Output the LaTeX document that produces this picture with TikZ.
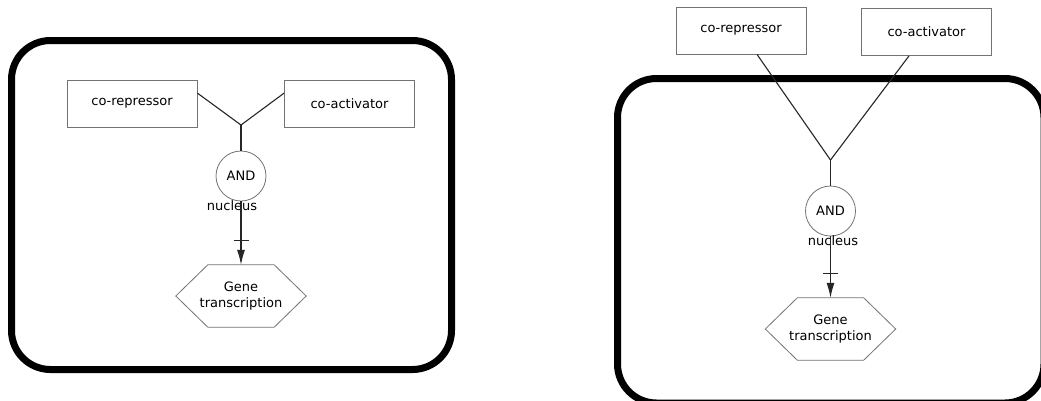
\documentclass[tikz,border=0pt]{standalone}
\usepackage{fontspec}
\setmainfont{DejaVu Sans}
\usetikzlibrary{arrows.meta,decorations.markings}
\begin{document}
\begin{tikzpicture}[x=1pt,y=-1pt,
  cellwall/.style={line width=7pt, rounded corners=39pt},
  molbox/.style={draw=black!55, line width=0.8pt, minimum width=130pt, minimum height=47pt, inner sep=0pt, font=\fontsize{13}{15}\selectfont},
  andgate/.style={circle, draw=black!55, line width=0.8pt, minimum size=50pt, inner sep=0pt, font=\fontsize{13}{15}\selectfont},
  hexhold/.style={minimum width=130pt, minimum height=62pt, inner sep=0pt, align=center, font=\fontsize{13}{16}\selectfont},
  hexline/.style={draw=black!55, line width=0.8pt},
  lbl/.style={inner sep=0pt, font=\fontsize{13}{15}\selectfont},
  conn/.style={line width=1.1pt, black!85},
  inhib/.style={conn, -{Latex[length=15pt,width=8pt]}, postaction={decorate},
    decoration={markings, mark=at position -24pt with {\draw[arrows=-, line width=1.3pt] (0,-7.5pt) -- (0,7.5pt);}}}
]
\useasboundingbox (0,0) rectangle (1041,400);
\fill[white] (0,0) rectangle (1041,400);

% ---------- left panel ----------
\draw[cellwall] (11.5,40.5) rectangle (451.5,369.5);
\node[molbox] (rep1) at (132,103.5) {co-repressor};
\node[molbox] (act1) at (349.5,103.5) {co-activator};
\coordinate (j1) at (241,125);
\node[andgate] (and1) at (241,176) {AND};
\node[lbl] (nuc1) at (232,206) {nucleus};
\node[hexhold] (hex1) at (241,296) {Gene\\transcription};
\draw[hexline] (hex1.west) -- ([xshift=32pt]hex1.north west) -- ([xshift=-32pt]hex1.north east) -- (hex1.east) -- ([xshift=-32pt]hex1.south east) -- ([xshift=32pt]hex1.south west) -- cycle;
\draw[conn] ([yshift=-13.5pt]rep1.north east) -- (j1);
\draw[conn] ([yshift=-13.5pt]act1.north west) -- (j1);
\draw[conn] (j1) -- (and1.north);
\draw[inhib] (and1.south) -- (hex1.north);

% ---------- right panel ----------
\draw[cellwall] (617.5,78.5) rectangle (1044,403);
\node[molbox] (rep2) at (741,30.5) {co-repressor};
\node[molbox] (act2) at (926.5,32) {co-activator};
\coordinate (j2) at (830.5,160);
\node[andgate] (and2) at (830.5,211) {AND};
\node[lbl] (nuc2) at (833,241) {nucleus};
\node[hexhold] (hex2) at (830.5,329) {Gene\\transcription};
\draw[hexline] (hex2.west) -- ([xshift=32pt]hex2.north west) -- ([xshift=-32pt]hex2.north east) -- (hex2.east) -- ([xshift=-32pt]hex2.south east) -- ([xshift=32pt]hex2.south west) -- cycle;
\draw[conn] ([xshift=16pt]rep2.south) -- (j2);
\draw[conn] ([xshift=-17.5pt]act2.south) -- (j2);
\draw[conn] (j2) -- (and2.north);
\draw[inhib] (and2.south) -- (hex2.north);
\end{tikzpicture}
\end{document}
